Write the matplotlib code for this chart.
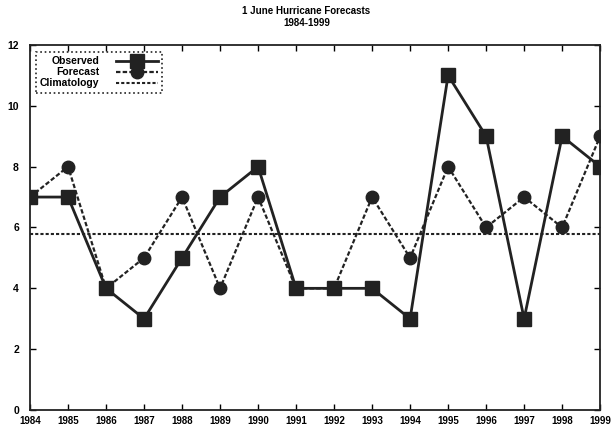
import matplotlib
matplotlib.use("Agg")
import matplotlib.pyplot as plt

# data
years = list(range(1984, 2000))
observed = [7, 7, 4, 3, 5, 7, 8, 4, 4, 4, 3, 11, 9, 3, 9, 8]
forecast = [7, 8, 4, 5, 7, 4, 7, 4, 4, 7, 5, 8, 6, 7, 6, 9]
climatology = 5.8

plt.rcParams['font.family'] = ['Liberation Sans', 'DejaVu Sans']
plt.rcParams['font.weight'] = 'bold'

fig = plt.figure(figsize=(6.13, 4.28), dpi=100)
ax = fig.add_axes([0.049, 0.042, 0.930, 0.853])

ax.plot(years, observed, color='#222222', lw=2, marker='s', ms=10,
        label='Observed')
ax.plot(years, forecast, color='#222222', lw=1.6, ls=(0, (2, 1)),
        marker='o', ms=9, label='Forecast')
ax.plot([years[0], years[-1]], [climatology, climatology], color='#222222',
        lw=1.5, ls=(0, (1.5, 1)), label='Climatology')

ax.set_xlim(1984, 1999)
ax.set_ylim(0, 12)
ax.set_xticks(years)
ax.set_yticks(range(0, 13, 2))
ax.tick_params(direction='in', top=True, right=True, length=4, width=1,
               labelsize=7)
ax.tick_params(axis='y', pad=8, labelsize=7.5)
ax.tick_params(axis='x', pad=4)
for s in ax.spines.values():
    s.set_linewidth(1.3)
    s.set_color('#222222')

fig.suptitle('1 June Hurricane Forecasts\n1984-1999', fontsize=7,
             fontweight='bold', y=0.985)

leg = ax.legend(loc='upper left', markerfirst=False, fontsize=7.5,
                handlelength=4, borderpad=0.4, labelspacing=0.1,
                handletextpad=1.6, borderaxespad=0, fancybox=False,
                framealpha=1, bbox_to_anchor=(0.01, 0.98))
for t in leg.get_texts():
    t.set_ha('right')
leg._legend_box.align = 'right'
fr = leg.get_frame()
fr.set_linestyle(':')
fr.set_edgecolor('#222222')
fr.set_linewidth(1.2)

fig.savefig('out.png', dpi=100)
